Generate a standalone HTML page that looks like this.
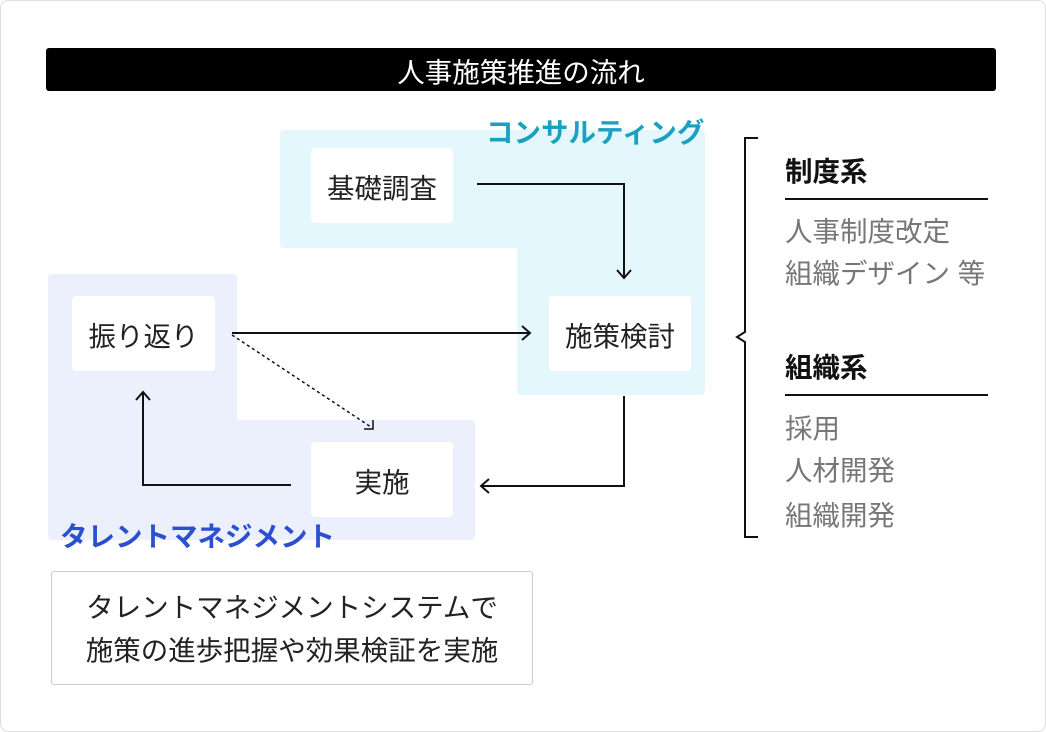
<!DOCTYPE html>
<html><head><meta charset="utf-8"><style>
body{margin:0;width:1046px;height:732px;background:#fff;font-family:"Liberation Sans","Noto Sans CJK JP",sans-serif;position:relative;overflow:hidden}
.a{position:absolute}
.card{left:0;top:0;width:1044px;height:730px;border:1px solid #ddd;border-radius:8px}
.box{background:#fff;border-radius:4px;display:flex;align-items:center;justify-content:center;font-size:27.5px;color:#222}
.r{font-size:27.5px;color:#777;left:785px;line-height:1;white-space:nowrap}
.h{font-size:27.5px;color:#111;font-weight:bold;left:785px;line-height:1}
</style></head><body>
<div class="a card"></div>
<div class="a" style="left:46px;top:48px;width:950px;height:43px;background:#000;border-radius:3px;color:#fff;font-size:27.5px;display:flex;align-items:center;justify-content:center">人事施策推進の流れ</div>
<div class="a" style="left:280px;top:130px;width:425px;height:118px;background:#e3f7fc;border-radius:4px 4px 0 4px"></div>
<div class="a" style="left:517px;top:240px;width:188px;height:155px;background:#e3f7fc;border-radius:0 0 4px 4px"></div>
<div class="a" style="left:486px;top:119px;font-size:27.5px;font-weight:bold;color:#1aa0c0;line-height:1;white-space:nowrap">コンサルティング</div>
<div class="a" style="left:48px;top:274px;width:189px;height:266px;background:#eceffc;border-radius:4px 4px 0 4px"></div>
<div class="a" style="left:230px;top:420px;width:245px;height:120px;background:#eceffc;border-radius:0 4px 4px 0"></div>
<div class="a" style="left:60px;top:523px;font-size:27.5px;font-weight:bold;color:#2a4fcf;line-height:1;white-space:nowrap">タレントマネジメント</div>
<div class="a box" style="left:311px;top:148px;width:142px;height:75px">基礎調査</div>
<div class="a box" style="left:72px;top:296px;width:143px;height:75px">振り返り</div>
<div class="a box" style="left:549px;top:296px;width:142px;height:75px">施策検討</div>
<div class="a box" style="left:311px;top:442px;width:142px;height:75px">実施</div>
<svg class="a" style="left:0;top:0" width="1046" height="732" fill="none" stroke="#111" stroke-width="2">
<polyline points="477,184 624,184 624,278"/><polyline points="617,270 624,278 631,270"/>
<line x1="232" y1="333" x2="530" y2="333"/><polyline points="522,326 530,333 522,340"/>
<line x1="232" y1="335" x2="371" y2="427" stroke-dasharray="3,3" stroke-width="1.5"/><polyline points="364,429 373,429 373,420" stroke-width="1.5"/>
<polyline points="624,396 624,486 481,486"/><polyline points="489,479 481,486 489,493"/>
<polyline points="291,485 143,485 143,392"/><polyline points="136,400 143,392 150,400"/>
<polyline points="758,138 745,138 745,332 737,337 745,342 745,537 758,537"/>
<line x1="785" y1="199" x2="988" y2="199"/><line x1="785" y1="395" x2="988" y2="395"/>
</svg>
<div class="a h" style="top:158px">制度系</div>
<div class="a r" style="top:218px">人事制度改定</div>
<div class="a r" style="top:260px">組織デザイン 等</div>
<div class="a h" style="top:354px">組織系</div>
<div class="a r" style="top:415px">採用</div>
<div class="a r" style="top:457px">人材開発</div>
<div class="a r" style="top:502px">組織開発</div>
<div class="a" style="left:51px;top:571px;width:482px;height:114px;border:1px solid #ccc;border-radius:3px;font-size:27.5px;color:#222;text-align:center;line-height:43px;padding-top:14px;box-sizing:border-box;white-space:nowrap">タレントマネジメントシステムで<br>施策の進歩把握や効果検証を実施</div>
</body></html>
